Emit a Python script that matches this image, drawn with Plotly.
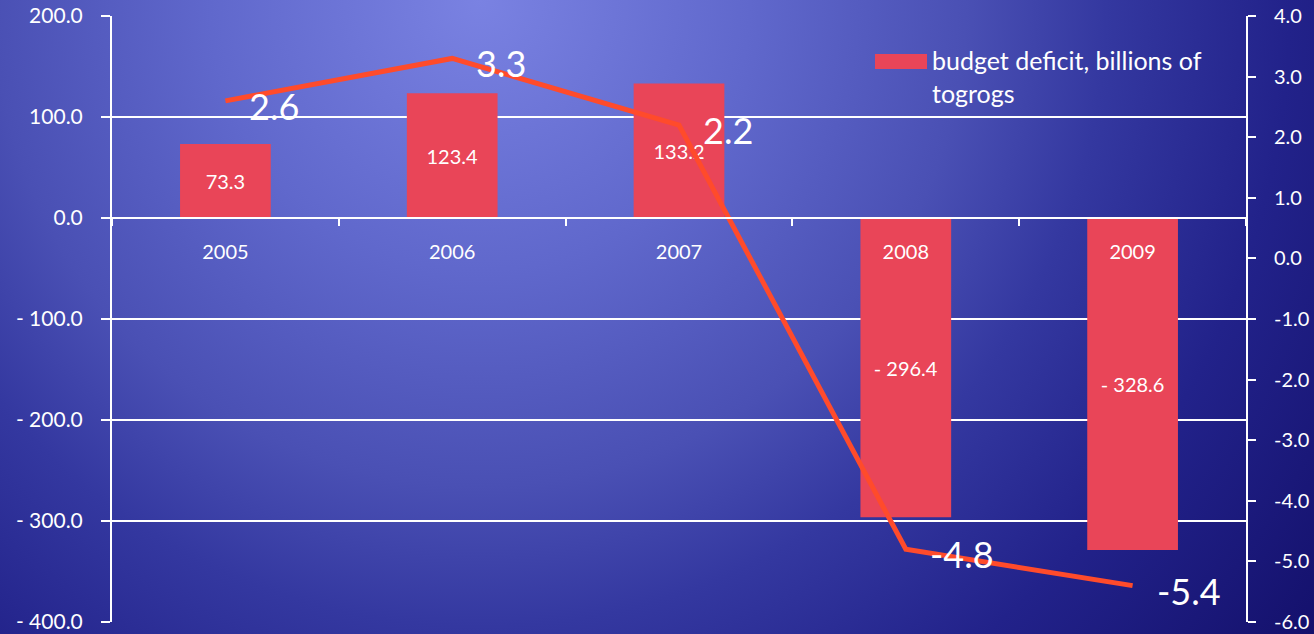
import base64
import plotly.graph_objects as go

# Data
years = ["2005", "2006", "2007", "2008", "2009"]
deficit = [73.3, 123.4, 133.2, -296.4, -328.6]        # billions of togrogs (left axis)
ratio = [2.6, 3.3, 2.2, -4.8, -5.4]                  # right axis
left_ticks = [200, 100, 0, -100, -200, -300, -400]
right_ticks = [4, 3, 2, 1, 0, -1, -2, -3, -4, -5, -6]

W, H = 1314, 634
M = dict(l=112, r=68, t=16, b=12)
PW = W - M["l"] - M["r"]
PH = H - M["t"] - M["b"]

FONT = "Lato, 'Open Sans', sans-serif"
WHITE = "#ffffff"
BAR = "#e94558"
LINE = "#ff4b2b"


def fmt_left(v):
    return f"- {abs(v):.1f}" if v < 0 else f"{v:.1f}"


def fmt_right(v):
    return f"{v:.1f}"


# Radial blue backdrop as an inline SVG
svg = f"""<svg xmlns='http://www.w3.org/2000/svg' width='{W}' height='{H}' viewBox='0 0 {W} {H}'>
<defs><radialGradient id='g' gradientUnits='userSpaceOnUse' cx='480' cy='0' r='1080'>
<stop offset='0' stop-color='#7a82e2'/>
<stop offset='0.25' stop-color='#6068cc'/>
<stop offset='0.45' stop-color='#4a50b4'/>
<stop offset='0.58' stop-color='#3438a0'/>
<stop offset='0.75' stop-color='#22228a'/>
<stop offset='1' stop-color='#120e68'/>
</radialGradient></defs>
<rect width='{W}' height='{H}' fill='url(#g)'/></svg>"""
bg_src = "data:image/svg+xml;base64," + base64.b64encode(svg.encode()).decode()

fig = go.Figure()

fig.add_trace(go.Bar(
    x=years, y=deficit, yaxis="y",
    marker=dict(color=BAR, line=dict(width=0)),
    width=0.4,
    text=[fmt_left(v) for v in deficit],
    textposition="inside", insidetextanchor="middle", textangle=0,
    textfont=dict(family=FONT, size=20, color=WHITE),
    constraintext="none",
    showlegend=False, name="budget deficit, billions of togrogs",
))

fig.add_trace(go.Scatter(
    x=years, y=ratio, yaxis="y2", mode="lines",
    line=dict(color=LINE, width=5),
    showlegend=False,
))

# Value labels beside the line points (x given as category index)
for i, v in enumerate(ratio):
    fig.add_annotation(
        x=i, y=v, xref="x", yref="y2", text=f"{v:.1f}",
        showarrow=False, xanchor="left", yanchor="middle",
        xshift=22, yshift=-5,
        font=dict(family=FONT, size=36, color=WHITE),
    )

# Legend entry
fig.add_shape(type="rect", xref="paper", yref="paper",
              x0=(875 - M["l"]) / PW, x1=(927 - M["l"]) / PW,
              y0=1 - (69 - M["t"]) / PH, y1=1 - (54 - M["t"]) / PH,
              fillcolor=BAR, line=dict(width=0), layer="above")
fig.add_annotation(xref="paper", yref="paper",
                   x=(930 - M["l"]) / PW, y=1 - (43 - M["t"]) / PH,
                   xanchor="left", yanchor="top", align="left", showarrow=False,
                   text="budget deficit, billions of<br>togrogs",
                   font=dict(family=FONT, size=25, color=WHITE))

fig.add_layout_image(dict(
    source=bg_src, xref="paper", yref="paper",
    x=-M["l"] / PW, y=1 + M["t"] / PH,
    sizex=W / PW, sizey=H / PH,
    xanchor="left", yanchor="top", sizing="stretch", layer="below",
))

fig.update_layout(
    width=W, height=H, margin=dict(M, autoexpand=False),
    paper_bgcolor="#1a1a78", plot_bgcolor="rgba(0,0,0,0)",
    font=dict(family=FONT, color=WHITE),
    bargap=0.6,
    xaxis=dict(
        type="category", range=[-0.5, len(years) - 0.5], autorange=False,
        anchor="free", position=(0 - left_ticks[-1]) / (left_ticks[0] - left_ticks[-1]),
        showline=True, linecolor=WHITE, linewidth=2,
        ticks="outside", tickson="boundaries", ticklen=7, tickcolor=WHITE, tickwidth=2,
        showgrid=False, zeroline=False, automargin=False, tickangle=0,
        tickfont=dict(family=FONT, size=20, color=WHITE),
        ticklabelstandoff=16,
    ),
    yaxis=dict(
        range=[left_ticks[-1], left_ticks[0]], autorange=False,
        tickvals=left_ticks, ticktext=[fmt_left(v) for v in left_ticks],
        showgrid=True, gridcolor=WHITE, gridwidth=2,
        zeroline=False, automargin=False,
        showline=True, linecolor=WHITE, linewidth=2,
        ticks="outside", ticklen=9, tickcolor=WHITE, tickwidth=2,
        tickfont=dict(family=FONT, size=21, color=WHITE),
        ticklabelstandoff=14,
    ),
    yaxis2=dict(
        overlaying="y", side="right",
        range=[right_ticks[-1], right_ticks[0]], autorange=False,
        tickvals=right_ticks, ticktext=[fmt_right(v) for v in right_ticks],
        showgrid=False, zeroline=False, automargin=False,
        showline=True, linecolor=WHITE, linewidth=2,
        ticks="outside", ticklen=8, tickcolor=WHITE, tickwidth=2,
        tickfont=dict(family=FONT, size=20, color=WHITE),
        ticklabelstandoff=14,
    ),
)

fig.write_html("out.html")
